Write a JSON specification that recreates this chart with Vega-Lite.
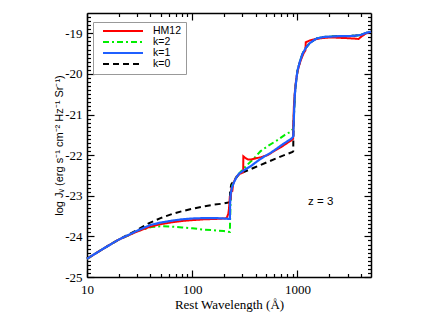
{
  "$schema": "https://vega.github.io/schema/vega-lite/v6.json",
  "width": 284,
  "height": 264,
  "autosize": {"type": "none"},
  "padding": {"left": 87, "top": 13, "right": 65, "bottom": 35},
  "background": "white",
  "config": {"view": {"stroke": null}},
  "data": {"values": [
    {"s":"k=0","w":10,"v":-24.55},{"s":"k=0","w":15,"v":-24.27},{"s":"k=0","w":20,"v":-24.08},{"s":"k=0","w":25,"v":-23.95},{"s":"k=0","w":30,"v":-23.84},{"s":"k=0","w":38.5,"v":-23.68},{"s":"k=0","w":50,"v":-23.55},{"s":"k=0","w":64,"v":-23.45},{"s":"k=0","w":80,"v":-23.38},{"s":"k=0","w":100,"v":-23.32},{"s":"k=0","w":124,"v":-23.27},{"s":"k=0","w":160,"v":-23.22},{"s":"k=0","w":200,"v":-23.19},{"s":"k=0","w":228,"v":-23.16},{"s":"k=0","w":229,"v":-22.9},{"s":"k=0","w":235,"v":-22.72},{"s":"k=0","w":250,"v":-22.62},{"s":"k=0","w":280,"v":-22.46},{"s":"k=0","w":386,"v":-22.31},{"s":"k=0","w":519,"v":-22.17},{"s":"k=0","w":700,"v":-22.03},{"s":"k=0","w":898,"v":-21.92},{"s":"k=0","w":912,"v":-21.9},{"s":"k=0","w":914,"v":-21.6},{"s":"k=0","w":918,"v":-21.3},{"s":"k=0","w":930,"v":-20.9},{"s":"k=0","w":945,"v":-20.5},{"s":"k=0","w":970,"v":-20.2},{"s":"k=0","w":1000,"v":-19.92},{"s":"k=0","w":1060,"v":-19.68},{"s":"k=0","w":1120,"v":-19.5},{"s":"k=0","w":1200,"v":-19.36},{"s":"k=0","w":1300,"v":-19.25},{"s":"k=0","w":1430,"v":-19.17},{"s":"k=0","w":1550,"v":-19.12},{"s":"k=0","w":1800,"v":-19.09},{"s":"k=0","w":2500,"v":-19.07},{"s":"k=0","w":3500,"v":-19.06},{"s":"k=0","w":4000,"v":-19.04},{"s":"k=0","w":4500,"v":-18.99},{"s":"k=0","w":5000,"v":-18.96},

    {"s":"k=2","w":10,"v":-24.55},{"s":"k=2","w":15,"v":-24.27},{"s":"k=2","w":20,"v":-24.08},{"s":"k=2","w":25,"v":-23.97},{"s":"k=2","w":30,"v":-23.87},{"s":"k=2","w":35,"v":-23.82},{"s":"k=2","w":41,"v":-23.77},{"s":"k=2","w":50,"v":-23.75},{"s":"k=2","w":64,"v":-23.76},{"s":"k=2","w":80,"v":-23.78},{"s":"k=2","w":100,"v":-23.8},{"s":"k=2","w":124,"v":-23.83},{"s":"k=2","w":160,"v":-23.85},{"s":"k=2","w":200,"v":-23.87},{"s":"k=2","w":228,"v":-23.89},{"s":"k=2","w":229,"v":-23.6},{"s":"k=2","w":232,"v":-23.0},{"s":"k=2","w":240,"v":-22.75},{"s":"k=2","w":260,"v":-22.55},{"s":"k=2","w":288,"v":-22.41},{"s":"k=2","w":330,"v":-22.25},{"s":"k=2","w":380,"v":-22.1},{"s":"k=2","w":447,"v":-21.9},{"s":"k=2","w":520,"v":-21.78},{"s":"k=2","w":645,"v":-21.63},{"s":"k=2","w":760,"v":-21.5},{"s":"k=2","w":864,"v":-21.42},{"s":"k=2","w":912,"v":-21.35},{"s":"k=2","w":918,"v":-21.2},{"s":"k=2","w":930,"v":-20.9},{"s":"k=2","w":945,"v":-20.5},{"s":"k=2","w":970,"v":-20.2},{"s":"k=2","w":1000,"v":-19.92},{"s":"k=2","w":1060,"v":-19.68},{"s":"k=2","w":1120,"v":-19.5},{"s":"k=2","w":1200,"v":-19.36},{"s":"k=2","w":1300,"v":-19.25},{"s":"k=2","w":1430,"v":-19.17},{"s":"k=2","w":1550,"v":-19.12},{"s":"k=2","w":1800,"v":-19.09},{"s":"k=2","w":2500,"v":-19.07},{"s":"k=2","w":3500,"v":-19.06},{"s":"k=2","w":4000,"v":-19.04},{"s":"k=2","w":4500,"v":-18.99},{"s":"k=2","w":5000,"v":-18.96},

    {"s":"HM12","w":10,"v":-24.55},{"s":"HM12","w":15,"v":-24.27},{"s":"HM12","w":20,"v":-24.08},{"s":"HM12","w":25,"v":-23.97},{"s":"HM12","w":30,"v":-23.88},{"s":"HM12","w":40,"v":-23.76},{"s":"HM12","w":50,"v":-23.7},{"s":"HM12","w":65,"v":-23.65},{"s":"HM12","w":80,"v":-23.62},{"s":"HM12","w":100,"v":-23.6},{"s":"HM12","w":130,"v":-23.58},{"s":"HM12","w":170,"v":-23.57},{"s":"HM12","w":200,"v":-23.56},{"s":"HM12","w":212,"v":-23.55},{"s":"HM12","w":220,"v":-23.45},{"s":"HM12","w":224,"v":-23.3},{"s":"HM12","w":228,"v":-23.0},{"s":"HM12","w":232,"v":-23.1},{"s":"HM12","w":236,"v":-22.8},{"s":"HM12","w":240,"v":-22.9},{"s":"HM12","w":245,"v":-22.7},{"s":"HM12","w":255,"v":-22.6},{"s":"HM12","w":265,"v":-22.52},{"s":"HM12","w":280,"v":-22.47},{"s":"HM12","w":305,"v":-22.42},{"s":"HM12","w":306,"v":-22.03},{"s":"HM12","w":320,"v":-22.07},{"s":"HM12","w":340,"v":-22.11},{"s":"HM12","w":360,"v":-22.11},{"s":"HM12","w":400,"v":-22.08},{"s":"HM12","w":450,"v":-22.05},{"s":"HM12","w":520,"v":-22.0},{"s":"HM12","w":600,"v":-21.9},{"s":"HM12","w":700,"v":-21.8},{"s":"HM12","w":800,"v":-21.7},{"s":"HM12","w":880,"v":-21.63},{"s":"HM12","w":910,"v":-21.6},{"s":"HM12","w":912,"v":-21.3},{"s":"HM12","w":925,"v":-20.8},{"s":"HM12","w":945,"v":-20.45},{"s":"HM12","w":966,"v":-20.2},{"s":"HM12","w":1000,"v":-19.95},{"s":"HM12","w":1040,"v":-19.78},{"s":"HM12","w":1077,"v":-19.66},{"s":"HM12","w":1140,"v":-19.5},{"s":"HM12","w":1190,"v":-19.42},{"s":"HM12","w":1200,"v":-19.22},{"s":"HM12","w":1300,"v":-19.18},{"s":"HM12","w":1440,"v":-19.15},{"s":"HM12","w":1700,"v":-19.12},{"s":"HM12","w":2080,"v":-19.1},{"s":"HM12","w":2500,"v":-19.11},{"s":"HM12","w":3000,"v":-19.12},{"s":"HM12","w":3500,"v":-19.13},{"s":"HM12","w":3800,"v":-19.14},{"s":"HM12","w":4100,"v":-19.07},{"s":"HM12","w":4500,"v":-19.0},{"s":"HM12","w":5000,"v":-18.96},

    {"s":"k=1","w":10,"v":-24.55},{"s":"k=1","w":15,"v":-24.27},{"s":"k=1","w":20,"v":-24.08},{"s":"k=1","w":25,"v":-23.96},{"s":"k=1","w":30,"v":-23.86},{"s":"k=1","w":40,"v":-23.72},{"s":"k=1","w":50,"v":-23.66},{"s":"k=1","w":65,"v":-23.61},{"s":"k=1","w":80,"v":-23.58},{"s":"k=1","w":100,"v":-23.56},{"s":"k=1","w":130,"v":-23.55},{"s":"k=1","w":170,"v":-23.55},{"s":"k=1","w":200,"v":-23.56},{"s":"k=1","w":228,"v":-23.57},{"s":"k=1","w":229,"v":-23.2},{"s":"k=1","w":232,"v":-22.95},{"s":"k=1","w":240,"v":-22.78},{"s":"k=1","w":250,"v":-22.66},{"s":"k=1","w":265,"v":-22.53},{"s":"k=1","w":280,"v":-22.45},{"s":"k=1","w":320,"v":-22.35},{"s":"k=1","w":360,"v":-22.27},{"s":"k=1","w":420,"v":-22.14},{"s":"k=1","w":480,"v":-22.04},{"s":"k=1","w":550,"v":-21.95},{"s":"k=1","w":620,"v":-21.86},{"s":"k=1","w":700,"v":-21.76},{"s":"k=1","w":800,"v":-21.66},{"s":"k=1","w":880,"v":-21.59},{"s":"k=1","w":912,"v":-21.54},{"s":"k=1","w":918,"v":-21.3},{"s":"k=1","w":930,"v":-20.9},{"s":"k=1","w":945,"v":-20.5},{"s":"k=1","w":970,"v":-20.2},{"s":"k=1","w":1000,"v":-19.92},{"s":"k=1","w":1060,"v":-19.68},{"s":"k=1","w":1120,"v":-19.5},{"s":"k=1","w":1200,"v":-19.36},{"s":"k=1","w":1300,"v":-19.25},{"s":"k=1","w":1430,"v":-19.17},{"s":"k=1","w":1550,"v":-19.12},{"s":"k=1","w":1800,"v":-19.09},{"s":"k=1","w":2100,"v":-19.08},{"s":"k=1","w":2500,"v":-19.07},{"s":"k=1","w":3000,"v":-19.07},{"s":"k=1","w":3500,"v":-19.06},{"s":"k=1","w":4000,"v":-19.04},{"s":"k=1","w":4500,"v":-18.99},{"s":"k=1","w":5000,"v":-18.96}
  ]},
  "resolve": {"axis": {"x": "independent", "y": "independent"}},
  "layer": [
    {
      "transform": [{"filter": "datum.s === 'k=0'"}],
      "mark": {"type": "line", "strokeWidth": 2},
      "encoding": {
        "x": {"field": "w", "type": "quantitative",
          "scale": {"type": "log", "domain": [10, 5000], "nice": false},
          "axis": {"orient": "bottom", "values": [10,20,30,40,50,60,70,80,90,100,200,300,400,500,600,700,800,900,1000,2000,3000,4000],
            "labelExpr": "indexof([10,100,1000], datum.value) >= 0 ? '' + datum.value : ''",
            "tickSize": {"condition": {"test": "indexof([10,100,1000], datum.value) >= 0", "value": -7}, "value": -3.5},
            "title": "Rest Wavelength (Å)", "labelFont": "Liberation Serif", "labelFontSize": 13,
            "titleFont": "Liberation Serif", "titleFontSize": 13, "titleFontWeight": "normal",
            "labelPadding": 13, "titlePadding": -1, "domainColor": "black", "domainWidth": 1.5,
            "tickColor": "black", "tickWidth": 1.2, "grid": false, "labelColor": "black", "titleColor": "black",
            "labelFlush": false, "labelOverlap": false}},
        "y": {"field": "v", "type": "quantitative",
          "scale": {"domain": [-25, -18.5], "nice": false, "zero": false},
          "axis": {"orient": "left", "values": [-25,-24.9,-24.8,-24.7,-24.6,-24.5,-24.4,-24.3,-24.2,-24.1,-24,-23.9,-23.8,-23.7,-23.6,-23.5,-23.4,-23.3,-23.2,-23.1,-23,-22.9,-22.8,-22.7,-22.6,-22.5,-22.4,-22.3,-22.2,-22.1,-22,-21.9,-21.8,-21.7,-21.6,-21.5,-21.4,-21.3,-21.2,-21.1,-21,-20.9,-20.8,-20.7,-20.6,-20.5,-20.4,-20.3,-20.2,-20.1,-20,-19.9,-19.8,-19.7,-19.6,-19.5,-19.4,-19.3,-19.2,-19.1,-19,-18.9,-18.8,-18.7,-18.6],
            "labelExpr": "abs(datum.value - round(datum.value)) < 0.01 ? '' + round(datum.value) : ''",
            "tickSize": {"condition": {"test": "abs(datum.value - round(datum.value)) < 0.01", "value": -7}, "value": -3.5},
            "title": "log Jᵥ (erg s⁻¹ cm⁻² Hz⁻¹ Sr⁻¹)", "labelFont": "Liberation Serif", "labelFontSize": 13,
            "titleFont": "Liberation Sans", "titleFontSize": 11, "titleFontWeight": "normal",
            "labelPadding": 12, "titlePadding": 0, "domainColor": "black", "domainWidth": 1.5,
            "tickColor": "black", "tickWidth": 1.2, "grid": false, "labelColor": "black", "titleColor": "black",
            "labelFlush": false, "labelOverlap": false}},
        "color": {"field": "s", "type": "nominal",
          "scale": {"domain": ["HM12", "k=2", "k=1", "k=0"], "range": ["#ff0000", "#00ee00", "#1f5fff", "#000000"]},
          "legend": {"title": null, "orient": "none", "legendX": 6, "legendY": 9, "symbolType": "stroke",
            "symbolSize": 1600, "symbolStrokeWidth": 2, "clipHeight": 10, "labelFont": "Liberation Sans",
            "labelFontSize": 10.5, "labelOffset": 9, "symbolOffset": 5, "padding": 4, "strokeColor": "#999999",
            "fillColor": "white", "rowPadding": 0, "labelColor": "black"}},
        "strokeDash": {"field": "s", "type": "nominal",
          "scale": {"domain": ["HM12", "k=2", "k=1", "k=0"], "range": [[1, 0], [6, 3, 2, 3], [1, 0], [6, 4]]},
          "legend": {"title": null, "orient": "none", "legendX": 6, "legendY": 9, "symbolType": "stroke",
            "symbolSize": 1600, "symbolStrokeWidth": 2, "clipHeight": 10, "labelFont": "Liberation Sans",
            "labelFontSize": 10.5, "labelOffset": 9, "symbolOffset": 5, "padding": 4, "strokeColor": "#999999",
            "fillColor": "white", "rowPadding": 0, "labelColor": "black"}}
      }
    },
    {
      "transform": [{"filter": "datum.s === 'k=2'"}],
      "mark": {"type": "line", "strokeWidth": 2},
      "encoding": {
        "x": {"field": "w", "type": "quantitative",
          "axis": {"orient": "top", "values": [10,20,30,40,50,60,70,80,90,100,200,300,400,500,600,700,800,900,1000,2000,3000,4000],
            "labels": false, "title": null,
            "tickSize": {"condition": {"test": "indexof([10,100,1000], datum.value) >= 0", "value": -7}, "value": -3.5},
            "domainColor": "black", "domainWidth": 1.5, "tickColor": "black", "tickWidth": 1.2, "grid": false}},
        "y": {"field": "v", "type": "quantitative",
          "axis": {"orient": "right", "values": [-25,-24.9,-24.8,-24.7,-24.6,-24.5,-24.4,-24.3,-24.2,-24.1,-24,-23.9,-23.8,-23.7,-23.6,-23.5,-23.4,-23.3,-23.2,-23.1,-23,-22.9,-22.8,-22.7,-22.6,-22.5,-22.4,-22.3,-22.2,-22.1,-22,-21.9,-21.8,-21.7,-21.6,-21.5,-21.4,-21.3,-21.2,-21.1,-21,-20.9,-20.8,-20.7,-20.6,-20.5,-20.4,-20.3,-20.2,-20.1,-20,-19.9,-19.8,-19.7,-19.6,-19.5,-19.4,-19.3,-19.2,-19.1,-19,-18.9,-18.8,-18.7,-18.6],
            "labels": false, "title": null,
            "tickSize": {"condition": {"test": "abs(datum.value - round(datum.value)) < 0.01", "value": -7}, "value": -3.5},
            "domainColor": "black", "domainWidth": 1.5, "tickColor": "black", "tickWidth": 1.2, "grid": false}},
        "color": {"field": "s", "type": "nominal"},
        "strokeDash": {"field": "s", "type": "nominal"}
      }
    },
    {
      "transform": [{"filter": "datum.s === 'HM12'"}],
      "mark": {"type": "line", "strokeWidth": 2},
      "encoding": {
        "x": {"field": "w", "type": "quantitative", "axis": null},
        "y": {"field": "v", "type": "quantitative", "axis": null},
        "color": {"field": "s", "type": "nominal"},
        "strokeDash": {"field": "s", "type": "nominal"}
      }
    },
    {
      "transform": [{"filter": "datum.s === 'k=1'"}],
      "mark": {"type": "line", "strokeWidth": 2.2},
      "encoding": {
        "x": {"field": "w", "type": "quantitative", "axis": null},
        "y": {"field": "v", "type": "quantitative", "axis": null},
        "color": {"field": "s", "type": "nominal"},
        "strokeDash": {"field": "s", "type": "nominal"}
      }
    },
    {
      "data": {"values": [{"w": 1664, "v": -23.155, "t": "z = 3"}]},
      "mark": {"type": "text", "font": "Liberation Sans", "fontSize": 11.5, "align": "center", "baseline": "middle", "color": "black"},
      "encoding": {
        "x": {"field": "w", "type": "quantitative", "axis": null},
        "y": {"field": "v", "type": "quantitative", "axis": null},
        "text": {"field": "t", "type": "nominal"}
      }
    }
  ]
}
